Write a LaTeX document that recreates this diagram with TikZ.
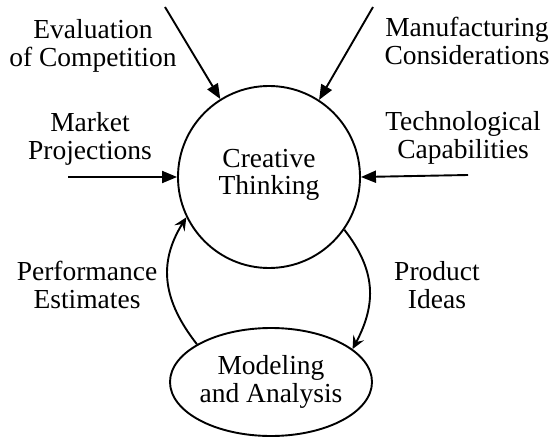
\documentclass[tikz,border=0pt]{standalone}
\usepackage{fontspec}
\setmainfont{Liberation Serif}
\usetikzlibrary{arrows.meta,shapes.geometric}

\begin{document}
\begin{tikzpicture}[x=1pt, y=-1pt, line width=1.9pt,
    every node/.style={font=\fontsize{27.5}{28}\selectfont, align=center},
    input/.style={-{Triangle[length=15pt,width=12pt]}},
    loop/.style={-{Stealth[length=13pt,width=12pt,inset=5pt]}}]
      \useasboundingbox (0,0) rectangle (553,438);
      % the two main blocks
      \node[draw, circle, minimum size=182pt, inner sep=0pt] (think) at (269,177) {};
      \node[draw, ellipse, minimum width=202pt, minimum height=108pt, inner sep=0pt] (model) at (271,382) {};
      \node[anchor=base] (thinktxt) at (269,195) {Creative\\Thinking};
      \node[anchor=base] (modeltxt) at (271,402) {Modeling\\and Analysis};
      % inputs
      \node[anchor=base] (evalc) at (93,67) {Evaluation\\of Competition};
      \node[anchor=base] (manuf) at (467,65) {Manufacturing\\Considerations};
      \node[anchor=base] (market) at (90,160) {Market\\Projections};
      \node[anchor=base] (techno) at (463,159) {Technological\\Capabilities};
      \node[anchor=base] (perf) at (87,308) {Performance\\Estimates};
      \node[anchor=base] (prod) at (437,308) {Product\\Ideas};
      \coordinate (evalend) at (165,7);
      \coordinate (manufend) at (373,7);
      \coordinate (marketend) at (68,177);
      \coordinate (technoend) at (468,175);
      \draw[input] (evalend) -- (think.122);
      \draw[input] (manufend) -- (think.57);
      \draw[input] (marketend) -- (think.180);
      \draw[input] (technoend) -- (think.0);
      % loop between the blocks
      \draw[loop] (model.153) to[out=128, in=238, looseness=1.1] (think.206);
      \draw[loop] (think.-35) to[out=-52, in=62, looseness=1.1] (model.22);
\end{tikzpicture}
\end{document}
